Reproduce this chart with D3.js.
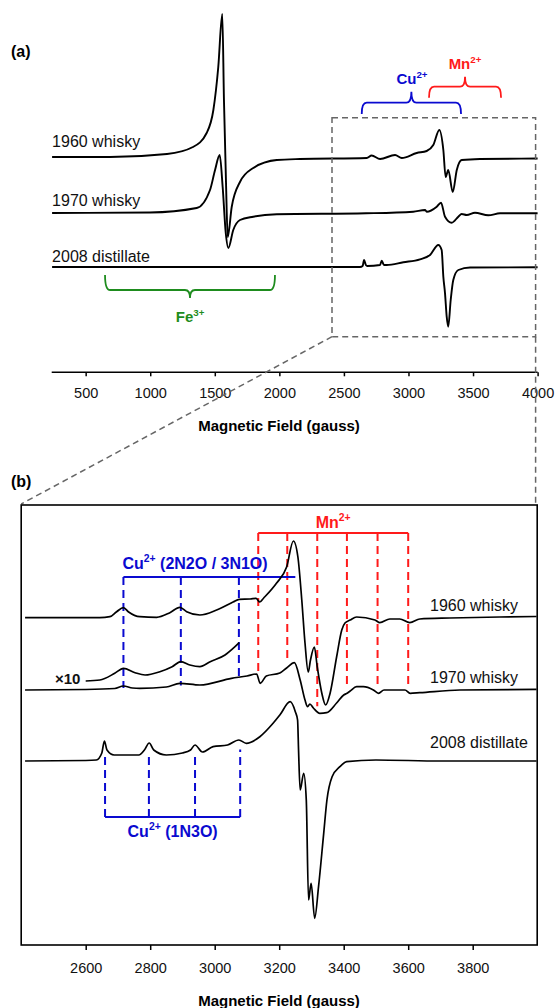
<!DOCTYPE html>
<html>
<head>
<meta charset="utf-8">
<script src="https://cdn.jsdelivr.net/npm/d3@7"></script>
<style>
  body { margin: 0; background: #fff; }
  svg { display: block; font-family: "Liberation Sans", Arial, sans-serif; }
</style>
</head>
<body>
<div id="chart"></div>
<script>
// (a) full sweep, [field (G), signal (a.u.)]
const a1960 = [[240,0],[688,0],[1130,3],[1331,10],[1437,24],[1489,47],[1527,90],[1558,143],[1571,57],[1587,-26],[1600,-80],[1631,-50],[1695,-25],[1798,-11],[1980,-3],[2160,-2],[2677,-1],[2715,1.5],[2780,-2],[2896,2],[2948,-1],[3064,4],[3141,6],[3192,12],[3239,27],[3270,7],[3288,-20],[3308,-13],[3343,-35],[3374,-13],[3412,-3],[3554,-2],[4000,-1.5]];
const a1970 = [[240,0],[998,0.5],[1360,5],[1463,23],[1502,43],[1538,58],[1561,26],[1585,-20],[1605,-35],[1643,-17],[1695,-7],[1798,-3.7],[1980,-1.3],[2671,-0.3],[3037,1.3],[3128,3],[3141,1.3],[3219,6.3],[3252,10.3],[3283,-3.7],[3335,-9.7],[3386,-3.7],[3412,-1],[3451,-2],[3515,0.3],[3618,-2.3],[3709,-0.3],[4000,-0.2]];
const a2008 = [[240,0],[2625,0],[2645,1],[2656,7],[2670,2],[2681,1],[2780,2],[2793,6.3],[2810,2],[2831,2],[2960,4.7],[3089,7.7],[3167,12],[3231,22],[3257,17],[3270,-9.7],[3283,-26.3],[3296,-49.7],[3308,-59.7],[3327,-33],[3347,-13],[3386,-3],[3477,-0.5],[4000,-0.3]];

// (b) 2400-4000 G expansion
const b1960 = [[2412,-0.7],[2644,-0.7],[2675,0.3],[2696,5.3],[2717,9.3],[2732,5.3],[2768,0.3],[2820,-0.3],[2861,4.3],[2892,9.7],[2913,5.3],[2954,2],[3006,7],[3057,15],[3076,17.7],[3110,18],[3128,18.7],[3140,15],[3152,19],[3192,34],[3223,50],[3244,76],[3258,60],[3270,17],[3280,-26],[3290,-55],[3297,-43],[3309,-30],[3318,-50],[3332,-76],[3344,-88],[3358,-76],[3378,-40],[3394,-13],[3404,-6],[3420,-3],[3440,0],[3497,-3],[3512,-5.7],[3543,-2],[3574,-2],[3605,-5.7],[3636,-2],[3729,-1],[3884,0],[3998,0.5]];
const b1970 = [[2412,0],[2600,0.5],[2690,1.5],[2717,4],[2745,2],[2768,1.7],[2850,3],[2892,6.7],[2954,5],[3052,11.7],[3100,14],[3130,16],[3141,6.7],[3160,14],[3202,17],[3223,22],[3247,27.3],[3265,10],[3280,-10],[3288,-16.7],[3295,-14],[3306,-18],[3326,-23.3],[3347,-22.7],[3378,-13],[3400,-5],[3409,-3.5],[3420,-1],[3440,3.3],[3461,3.3],[3492,0],[3508,-3.3],[3525,0],[3544,0],[3590,0],[3606,-3.3],[3636,-2.7],[3760,0],[3998,0.7]];
const b1970x10 = [[2600,9],[2644,10],[2690,16.7],[2717,21.7],[2753,17.3],[2784,15],[2830,18.3],[2868,23.3],[2895,28.3],[2923,25],[2954,23.3],[2986,28.3],[3032,35],[3063,43.3],[3076,47.3]];
const b2008 = [[2412,0],[2600,0.5],[2633,1],[2650,8],[2658,20],[2666,11],[2688,6],[2730,6],[2765,6],[2782,11],[2797,18],[2811,11],[2850,6],[2900,8],[2925,11],[2939,16],[2962,9],[2995,14.3],[3040,16],[3075,21],[3098,17.7],[3140,24.3],[3181,37.7],[3202,46],[3234,59.3],[3250,49.3],[3257,41],[3260,11],[3265,-29],[3276,-12.3],[3284,-39],[3291,-139],[3299,-122.3],[3310,-157.3],[3322,-125.7],[3338,-72.3],[3348,-39],[3364,-15.7],[3388,-5.7],[3409,-0.7],[3500,1],[3700,0],[3998,0]];

const sampleNames = ["1960 whisky", "1970 whisky", "2008 distillate"];
const offsetsA = [215, 159, 105];
const offsetsB = [328, 255, 184];

const ticksA = [500, 1000, 1500, 2000, 2500, 3000, 3500, 4000];
const ticksB = [2600, 2800, 3000, 3200, 3400, 3600, 3800];

// hyperfine line positions (G)
const cuLines2N2O = [2717, 2895, 3075];
const cuLines1N3O = [2660, 2796, 2939, 3079];
const mnLines = [3135, 3225, 3318, 3410, 3505, 3600];

const BLUE = "#0a0ad0", RED = "#ff1a1a", GREEN = "#1e8c1e", GREY = "#666";

const svg = d3.select("#chart").append("svg").attr("width", 556).attr("height", 1008);

const xA = d3.scaleLinear().domain([0, 4000]).range([21.1, 537.6]);
const yA = d3.scaleLinear().domain([0, 360]).range([372, 12]);
const xB = d3.scaleLinear().domain([2400, 4000]).range([21.2, 537.2]);
const yB = d3.scaleLinear().domain([0, 440]).range([945, 505]);

// interpolate a trace at field f
function valueAt(trace, f) {
  const i = d3.bisector(d => d[0]).left(trace, f);
  if (i <= 0) return trace[0][1];
  if (i >= trace.length) return trace[trace.length - 1][1];
  const [f0, v0] = trace[i - 1], [f1, v1] = trace[i];
  return v0 + (v1 - v0) * (f - f0) / (f1 - f0);
}

function drawTrace(g, data, x, y, off, w) {
  const line = d3.line()
    .x(d => x(d[0]))
    .y(d => y(d[1] + off))
    .curve(d3.curveMonotoneX);
  g.append("path").attr("d", line(data))
    .attr("fill", "none").attr("stroke", "#000")
    .attr("stroke-width", w).attr("stroke-linejoin", "round");
}

// curly brace, opening downward (dir=1) or upward (dir=-1)
function brace(x0, x1, yh, dir, leg, tip, color) {
  const xc = (x0 + x1) / 2, r = 5;
  const yEnd = yh + dir * leg, yTip = yh - dir * tip;
  const d = `M${x0},${yEnd} Q${x0},${yh} ${x0 + r},${yh} L${xc - r},${yh} Q${xc},${yh} ${xc},${yTip}` +
            ` Q${xc},${yh} ${xc + r},${yh} L${x1 - r},${yh} Q${x1},${yh} ${x1},${yEnd}`;
  svg.append("path").attr("d", d).attr("fill", "none")
    .attr("stroke", color).attr("stroke-width", 1.8);
}

function ionLabel(x, y, base, sup, rest, color, size, anchor) {
  const t = svg.append("text").attr("x", x).attr("y", y)
    .attr("text-anchor", anchor).attr("font-weight", "bold")
    .attr("font-size", size).attr("fill", color);
  t.append("tspan").text(base);
  t.append("tspan").attr("font-size", size * 0.65).attr("dy", -size * 0.42).text(sup);
  if (rest) t.append("tspan").attr("dy", size * 0.42).text(rest);
  return t;
}

// ---------- panel (a) ----------
const gA = svg.append("g");
[a1960, a1970, a2008].forEach((tr, i) => drawTrace(gA, tr, xA, yA, offsetsA[i], 1.9));

const labelYA = [146.5, 205.5, 262];
sampleNames.forEach((n, i) => {
  svg.append("text").attr("x", xA(240)).attr("y", labelYA[i])
    .attr("font-size", 16).attr("fill", "#111").text(n);
});

const axA = svg.append("g").attr("transform", "translate(0,372.3)")
  .call(d3.axisBottom(xA).tickValues(ticksA).tickSize(4).tickPadding(11).tickFormat(d3.format("d")));
axA.select(".domain").remove();
axA.append("line").attr("x1", xA(237)).attr("x2", xA(4000)).attr("stroke", "#000").attr("stroke-width", 1.6);
axA.selectAll(".tick line").attr("stroke-width", 1.5);
axA.selectAll(".tick text").attr("font-size", 14.5).attr("fill", "#111")
  .attr("font-family", "Liberation Sans, Arial, sans-serif");

svg.append("text").attr("x", 279).attr("y", 431).attr("text-anchor", "middle")
  .attr("font-weight", "bold").attr("font-size", 15).text("Magnetic Field (gauss)");

svg.append("text").attr("x", 11).attr("y", 57).attr("font-weight", "bold")
  .attr("font-size", 16).text("(a)");

// braces
brace(xA(2638), xA(3407), 102.7, 1, 11.3, 11, BLUE);
ionLabel(xA(3027), 84, "Cu", "2+", null, BLUE, 15, "middle");
brace(xA(3159), xA(3717), 86.7, 1, 11, 10, RED);
ionLabel(xA(3438), 69, "Mn", "2+", null, RED, 15, "middle");
brace(xA(650), xA(1966), 290, -1, 15, 8, GREEN);
ionLabel(xA(1309), 322, "Fe", "3+", null, GREEN, 15, "middle");

// zoom box and connectors
const boxL = xA(2400) + 1, boxR = xA(4000) - 2, boxT = 117.7, boxB = 336.7;
svg.append("rect").attr("x", boxL).attr("y", boxT)
  .attr("width", boxR - boxL).attr("height", boxB - boxT)
  .attr("fill", "none").attr("stroke", GREY).attr("stroke-width", 1.5)
  .attr("stroke-dasharray", "6,4");
svg.append("line").attr("x1", boxL).attr("y1", boxB).attr("x2", xB(2400)).attr("y2", yB(440) - 1)
  .attr("stroke", GREY).attr("stroke-width", 1.5).attr("stroke-dasharray", "6,4");
svg.append("line").attr("x1", boxR).attr("y1", boxB).attr("x2", boxR).attr("y2", yB(440) - 1)
  .attr("stroke", GREY).attr("stroke-width", 1.5).attr("stroke-dasharray", "6,4");

// ---------- panel (b) ----------
svg.append("text").attr("x", 11).attr("y", 487).attr("font-weight", "bold")
  .attr("font-size", 16).text("(b)");

svg.append("rect").attr("x", xB(2400)).attr("y", yB(440))
  .attr("width", xB(4000) - xB(2400)).attr("height", yB(0) - yB(440))
  .attr("fill", "none").attr("stroke", "#000").attr("stroke-width", 1.6);

// Mn2+ sextet
const mnY = yB(412);
mnLines.forEach(f => {
  svg.append("line").attr("x1", xB(f)).attr("x2", xB(f))
    .attr("y1", mnY).attr("y2", yB(valueAt(b1970, f) + offsetsB[1] + 5))
    .attr("stroke", RED).attr("stroke-width", 2).attr("stroke-dasharray", "8,5");
});
svg.append("line").attr("x1", xB(mnLines[0])).attr("x2", xB(mnLines[5]))
  .attr("y1", mnY).attr("y2", mnY).attr("stroke", RED).attr("stroke-width", 2);
ionLabel((xB(mnLines[0]) + xB(mnLines[5])) / 2, 528, "Mn", "2+", null, RED, 16, "middle");

// Cu2+ 2N2O / 3N1O
const cuY = yB(368);
cuLines2N2O.forEach(f => {
  svg.append("line").attr("x1", xB(f)).attr("x2", xB(f))
    .attr("y1", cuY).attr("y2", yB(valueAt(b1970, f) + offsetsB[1] - 2))
    .attr("stroke", BLUE).attr("stroke-width", 2).attr("stroke-dasharray", "8,5");
});
svg.append("line").attr("x1", xB(cuLines2N2O[0])).attr("x2", xB(3250))
  .attr("y1", cuY).attr("y2", cuY).attr("stroke", BLUE).attr("stroke-width", 2);
ionLabel(xB(cuLines2N2O[0]) - 1, 569, "Cu", "2+", " (2N2O / 3N1O)", BLUE, 16, "start");

// Cu2+ 1N3O
const cu2Y = yB(128);
cuLines1N3O.forEach(f => {
  svg.append("line").attr("x1", xB(f)).attr("x2", xB(f))
    .attr("y1", cu2Y).attr("y2", yB(valueAt(b2008, f) + offsetsB[2] - 9))
    .attr("stroke", BLUE).attr("stroke-width", 2).attr("stroke-dasharray", "8,5");
});
svg.append("line").attr("x1", xB(cuLines1N3O[0])).attr("x2", xB(cuLines1N3O[3]))
  .attr("y1", cu2Y).attr("y2", cu2Y).attr("stroke", BLUE).attr("stroke-width", 2);
ionLabel((xB(cuLines1N3O[0]) + xB(cuLines1N3O[3])) / 2, 837, "Cu", "2+", " (1N3O)", BLUE, 16, "middle");

// traces
const gB = svg.append("g");
[b1960, b1970, b2008].forEach((tr, i) => drawTrace(gB, tr, xB, yB, offsetsB[i], 1.7));
drawTrace(gB, b1970x10, xB, yB, offsetsB[1], 1.7);

svg.append("text").attr("x", 55).attr("y", 684).attr("font-weight", "bold")
  .attr("font-size", 15).attr("fill", "#111").text("×10");

const labelYB = [611, 683, 748];
sampleNames.forEach((n, i) => {
  svg.append("text").attr("x", 430).attr("y", labelYB[i])
    .attr("font-size", 16).attr("fill", "#111").text(n);
});

const axB = svg.append("g").attr("transform", `translate(0,${yB(0)})`)
  .call(d3.axisBottom(xB).tickValues(ticksB).tickSize(5).tickPadding(12.5).tickFormat(d3.format("d")));
axB.select(".domain").remove();
axB.selectAll(".tick line").attr("stroke-width", 1.5);
axB.selectAll(".tick text").attr("font-size", 14.5).attr("fill", "#111")
  .attr("font-family", "Liberation Sans, Arial, sans-serif");

svg.append("text").attr("x", 279).attr("y", 1006).attr("text-anchor", "middle")
  .attr("font-weight", "bold").attr("font-size", 15).text("Magnetic Field (gauss)");
</script>
</body>
</html>
